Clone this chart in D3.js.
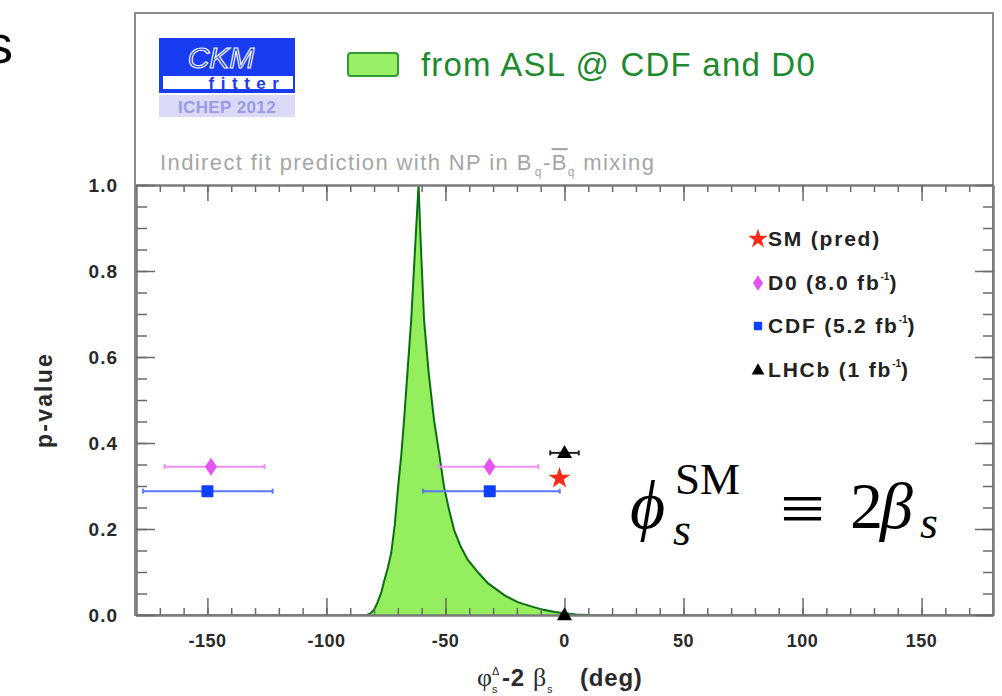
<!DOCTYPE html>
<html><head><meta charset="utf-8">
<script src="https://cdn.jsdelivr.net/npm/d3@7"></script>
<style>
body{margin:0;background:#fff;}
svg{display:block;}
.sans{font-family:"Liberation Sans",Arial,Helvetica,sans-serif;}
.serif{font-family:"Liberation Serif","DejaVu Serif",serif;}
</style></head><body>
<svg id="chart" width="1002" height="696"></svg>
<script>
// Profile of the p-value versus phi_s^Delta - 2 beta_s (deg), from ASL at CDF and D0
const profileDeg = [-83,-81.5,-80,-78.5,-77,-75.7,-74.2,-72.8,-71.3,-69.9,-68.6,-67.4,-65.9,-64.4,-62.5,-61.3,
                    -60.5,-59,-57,-54.8,-52.5,-50.6,-48.5,-46.4,-43.5,-40.6,-36,-32.2,-25,-19.7,-14,-8.8,-4,0,5,10];
const profileP   = [0,0.004,0.012,0.03,0.052,0.08,0.11,0.144,0.21,0.298,0.37,0.453,0.57,0.686,0.88,1.0,
                    0.88,0.686,0.56,0.453,0.37,0.298,0.245,0.198,0.158,0.128,0.097,0.074,0.045,0.03,0.02,0.012,0.007,0.004,0.001,0];

// Measurements (central value, 68% interval) placed at arbitrary p heights
const d0Deg  = [-148.5, -31.5];
const d0Lo   = [-168, -53];
const d0Hi   = [-126, -11];
const d0P    = 0.345;
const cdfDeg = [-150, -31.4];
const cdfLo  = [-177, -59.4];
const cdfHi  = [-122.6, -2];
const cdfP   = 0.288;
const lhcbDeg = [0];
const lhcbLo  = [-6];
const lhcbHi  = [6];
const lhcbP   = 0.377;
const lhcbAxisP = 0;
const smDeg  = [-2.1];
const smP    = 0.318;

// Axis ticks
const xMajor = [-150,-100,-50,0,50,100,150];
const xMinor = d3.range(-170,180,10);
const xTickLabels = ["-150","-100","-50","0","50","100","150"];
const yMajor = [0,0.2,0.4,0.6,0.8,1.0];
const yMinor = d3.range(0,1.0001,0.05);
const yTickLabels = ["0.0","0.2","0.4","0.6","0.8","1.0"];

// Legend
const legendLabels = ["SM (pred)","D0 (8.0 fb","CDF (5.2 fb","LHCb (1 fb"];
const legendSup = ["","-1","-1","-1"];
const legendTail = ["",")",")",")"];
const legendKinds = ["star","diamond","square","triangle"];

const svg = d3.select("#chart");
const x = d3.scaleLinear().domain([-180,180]).range([136,993]);
const y = d3.scaleLinear().domain([0,1]).range([615,185]);

const frameColor = "#7a7a7a";
const tickColor = "#6a6a6a";

// outer frame including the header band
svg.append("rect").attr("x",135).attr("y",13).attr("width",858).attr("height",602)
  .attr("fill","none").attr("stroke","#8c8c8c").attr("stroke-width",2);

// ---- header: logo
const logo = svg.append("g");
logo.append("rect").attr("x",159).attr("y",38).attr("width",136).attr("height",55).attr("fill","#1a3cf0");
logo.append("rect").attr("x",163).attr("y",76).attr("width",130).attr("height",13).attr("fill","#ffffff");
logo.append("text").attr("class","sans").attr("x",221).attr("y",68).attr("text-anchor","middle")
  .attr("font-size",30).attr("font-style","italic").attr("fill","none").attr("stroke","#ffffff").attr("stroke-width",1.1)
  .text("CKM");
logo.append("text").attr("class","sans").attr("x",247).attr("y",89).attr("text-anchor","middle")
  .attr("font-size",17).attr("font-weight","bold").attr("letter-spacing",6.5).attr("fill","#1a3cf0")
  .text("fitter");
logo.append("rect").attr("x",159).attr("y",95).attr("width",136).attr("height",22).attr("fill","#dadaf6");
logo.append("text").attr("class","sans").attr("x",227).attr("y",113).attr("text-anchor","middle")
  .attr("font-size",17).attr("font-weight","bold").attr("fill","#9a9ae8").attr("letter-spacing",0.4)
  .text("ICHEP 2012");

// ---- header: legend for the profile
svg.append("rect").attr("x",348).attr("y",53).attr("width",50).attr("height",23).attr("rx",3)
  .attr("fill","#99f066").attr("stroke","#2f9a2f").attr("stroke-width",2);
svg.append("text").attr("class","sans").attr("x",421).attr("y",76)
  .attr("font-size",33).attr("fill","#1e8a2e").attr("letter-spacing",1.2)
  .text("from ASL @ CDF and D0");

// subtitle
const sub = svg.append("text").attr("class","sans").attr("x",160).attr("y",170)
  .attr("font-size",22).attr("fill","#a6a6a6").attr("letter-spacing",1.4);
sub.append("tspan").text("Indirect fit prediction with NP in B");
sub.append("tspan").attr("font-size",12).attr("dy",6).attr("dx",2).text("q");
sub.append("tspan").attr("dy",-6).text("-");
sub.append("tspan").attr("text-decoration","overline").text("B");
sub.append("tspan").attr("font-size",12).attr("dy",6).text("q");
sub.append("tspan").attr("dy",-6).text(" mixing");

// ---- profile curve
const pts = profileDeg.map((d,i)=>[d,profileP[i]]);
const area = d3.area().x(d=>x(d[0])).y0(y(0)).y1(d=>y(d[1]));
const line = d3.line().x(d=>x(d[0])).y(d=>y(d[1]));
svg.append("path").datum(pts).attr("d",area).attr("fill","#95ee5e");
svg.append("path").datum(pts).attr("d",line).attr("fill","none").attr("stroke","#0a6e12").attr("stroke-width",2);

// ---- axes
function styleAxis(g){
  g.select(".domain").attr("stroke",frameColor).attr("stroke-width",2);
  g.selectAll(".tick line").attr("stroke",tickColor).attr("stroke-width",1.5);
  g.selectAll(".tick text").remove();
}
// bottom
svg.append("g").attr("transform",`translate(0,${y(0)})`).call(d3.axisBottom(x).tickValues(xMinor).tickSize(-7).tickSizeOuter(0)).call(styleAxis);
svg.append("g").attr("transform",`translate(0,${y(0)})`).call(d3.axisBottom(x).tickValues(xMajor).tickSize(-17).tickSizeOuter(0)).call(styleAxis);
// top
svg.append("g").attr("transform",`translate(0,${y(1)})`).call(d3.axisTop(x).tickValues(xMinor).tickSize(-7).tickSizeOuter(0)).call(styleAxis);
svg.append("g").attr("transform",`translate(0,${y(1)})`).call(d3.axisTop(x).tickValues(xMajor).tickSize(-16).tickSizeOuter(0)).call(styleAxis);
// left
svg.append("g").attr("transform",`translate(${x(-180)},0)`).call(d3.axisLeft(y).tickValues(yMinor).tickSize(-11).tickSizeOuter(0)).call(styleAxis);
svg.append("g").attr("transform",`translate(${x(-180)},0)`).call(d3.axisLeft(y).tickValues(yMajor).tickSize(-19).tickSizeOuter(0)).call(styleAxis);
// right
svg.append("g").attr("transform",`translate(${x(180)},0)`).call(d3.axisRight(y).tickValues(yMinor).tickSize(-10).tickSizeOuter(0)).call(styleAxis);
svg.append("g").attr("transform",`translate(${x(180)},0)`).call(d3.axisRight(y).tickValues(yMajor).tickSize(-18).tickSizeOuter(0)).call(styleAxis);

// tick labels
svg.append("g").selectAll("text").data(xMajor).join("text").attr("class","sans")
  .attr("x",d=>x(d)).attr("y",647).attr("text-anchor","middle")
  .attr("font-size",18).attr("font-weight","bold").attr("fill","#2a2a2a").attr("letter-spacing",0.5)
  .text((d,i)=>xTickLabels[i]);
svg.append("g").selectAll("text").data(yMajor).join("text").attr("class","sans")
  .attr("x",118).attr("y",d=>y(d)+7).attr("text-anchor","end")
  .attr("font-size",19).attr("font-weight","bold").attr("fill","#2a2a2a").attr("letter-spacing",1)
  .text((d,i)=>yTickLabels[i]);

// axis titles
svg.append("text").attr("class","sans").attr("transform","translate(52,400) rotate(-90)")
  .attr("text-anchor","middle").attr("font-size",23).attr("font-weight","bold").attr("fill","#2a2a2a")
  .attr("letter-spacing",2.2)
  .text("p-value");
const xt = svg.append("text").attr("class","sans").attr("y",686)
  .attr("font-size",24).attr("font-weight","bold").attr("fill","#2a2a2a").attr("letter-spacing",0.8);
xt.append("tspan").attr("x",477).attr("class","serif").attr("font-weight","normal").attr("font-size",26).text("φ");
xt.append("tspan").attr("x",492).attr("font-size",11).attr("font-weight","normal").attr("dy",-11).text("Δ");
xt.append("tspan").attr("x",492).attr("font-size",11).attr("font-weight","normal").attr("dy",18).text("s");
xt.append("tspan").attr("x",502).attr("dy",-7).text("-2");
xt.append("tspan").attr("x",533).attr("class","serif").attr("font-weight","normal").attr("font-size",26).text("β");
xt.append("tspan").attr("x",547).attr("font-size",11).attr("font-weight","normal").attr("dy",7).text("s");
xt.append("tspan").attr("x",580).attr("dy",-7).text("(deg)");

// ---- measurement error bars and markers
function errorBars(deg,lo,hi,p,color){
  const g = svg.append("g");
  deg.forEach((d,i)=>{
    g.append("line").attr("x1",x(lo[i])).attr("x2",x(hi[i])).attr("y1",y(p)).attr("y2",y(p))
      .attr("stroke",color).attr("stroke-width",2);
    [lo[i],hi[i]].forEach(e=>{
      g.append("line").attr("x1",x(e)).attr("x2",x(e)).attr("y1",y(p)-2.5).attr("y2",y(p)+2.5)
        .attr("stroke",color).attr("stroke-width",2);
    });
  });
}
errorBars(d0Deg,d0Lo,d0Hi,d0P,"#f090f0");
errorBars(cdfDeg,cdfLo,cdfHi,cdfP,"#5a78ff");
errorBars(lhcbDeg,lhcbLo,lhcbHi,lhcbP,"#222");

function marker(kind,cx,cy,scale){
  const s = scale||1;
  if(kind==="star"){
    return svg.append("path").attr("d",d3.symbol(d3.symbolStar,150*s*s)())
      .attr("transform",`translate(${cx},${cy})`).attr("fill","#ff2a1a");
  }
  if(kind==="diamond"){
    const w=6*s,h=9*s;
    return svg.append("path").attr("d",`M${cx},${cy-h}L${cx+w},${cy}L${cx},${cy+h}L${cx-w},${cy}Z`).attr("fill","#e455f0");
  }
  if(kind==="square"){
    const a=6*s;
    return svg.append("rect").attr("x",cx-a).attr("y",cy-a).attr("width",2*a).attr("height",2*a).attr("rx",1).attr("fill","#1040ff");
  }
  if(kind==="triangle"){
    const w=7.5*s,h=13*s;
    return svg.append("path").attr("d",`M${cx},${cy-h*0.6}L${cx+w},${cy+h*0.4}L${cx-w},${cy+h*0.4}Z`).attr("fill","#000");
  }
}
d0Deg.forEach(d=>marker("diamond",x(d),y(d0P)));
cdfDeg.forEach(d=>marker("square",x(d),y(cdfP)));
lhcbDeg.forEach(d=>marker("triangle",x(d),y(lhcbP)));
lhcbDeg.forEach(d=>marker("triangle",x(d),y(lhcbAxisP)));
smDeg.forEach(d=>marker("star",x(d),y(smP)));

// ---- legend for the measurements
const legY = [239,283,326,370];
legendLabels.forEach((lab,i)=>{
  const sc = legendKinds[i]==="star"?0.9:(legendKinds[i]==="square"?0.7:0.85);
  marker(legendKinds[i],758,legY[i],sc);
  const t = svg.append("text").attr("class","sans").attr("x",768).attr("y",legY[i]+7)
    .attr("font-size",21).attr("font-weight","bold").attr("fill","#222").attr("letter-spacing",1.8);
  t.append("tspan").text(lab);
  if(legendSup[i]){
    t.append("tspan").attr("font-size",10).attr("dy",-10).attr("letter-spacing",0).text(legendSup[i]);
    t.append("tspan").attr("dy",10).text(legendTail[i]);
  }
});

// ---- SM relation, set as one expression
const f = svg.append("text").attr("class","serif").attr("fill","#000").attr("y",528).attr("font-size",66);
f.append("tspan").attr("x",630).attr("y",528).attr("font-size",68).attr("font-style","italic").text("ϕ");
f.append("tspan").attr("x",675).attr("y",494).attr("font-size",45).text("SM");
f.append("tspan").attr("x",673).attr("y",545).attr("font-size",46).attr("font-style","italic").text("s");
f.append("tspan").attr("x",780).attr("y",532).attr("font-size",70).attr("textLength",45).attr("lengthAdjust","spacingAndGlyphs").text("≡");
f.append("tspan").attr("x",850).attr("y",528).text("2");
f.append("tspan").attr("x",880).attr("y",528).attr("font-style","italic").text("β");
f.append("tspan").attr("x",920).attr("y",538).attr("font-size",46).attr("font-style","italic").text("s");

// slide text fragment at the left edge
svg.append("text").attr("class","sans").attr("x",13).attr("y",63).attr("text-anchor","end")
  .attr("font-size",54).attr("fill","#000").text("s");
</script>
</body></html>
